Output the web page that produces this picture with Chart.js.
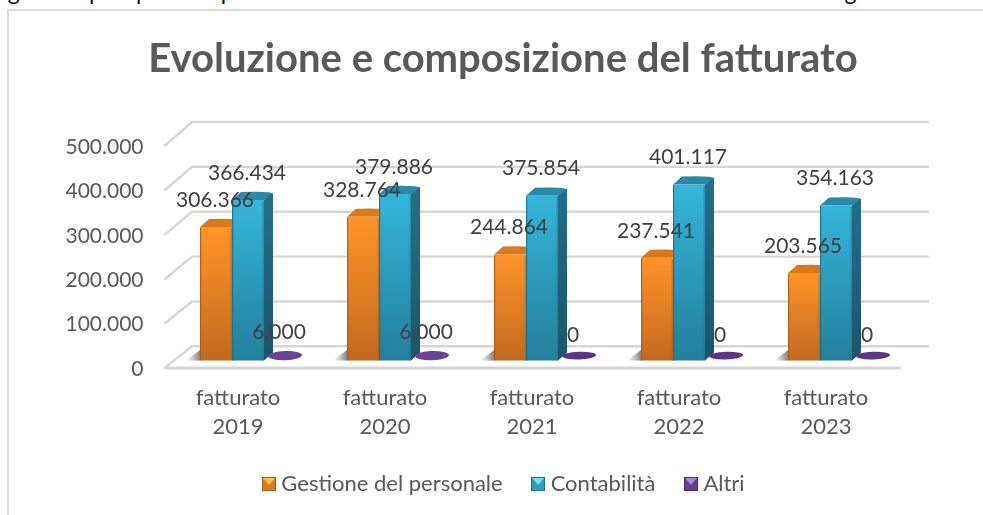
<!DOCTYPE html>
<html><head><meta charset="utf-8">
<style>
html,body{margin:0;padding:0;background:#fff;width:983px;height:515px;overflow:hidden}
#wrap{position:relative;width:983px;height:515px}
#c{position:absolute;left:0;top:0}
#cap{position:absolute;left:-16px;top:-23px;white-space:nowrap;font:23px "Lato";color:#111;letter-spacing:.8px}
#clipcap{position:absolute;left:0;top:0;width:983px;height:7px;overflow:hidden}
#frame{position:absolute;left:7px;top:9px;width:976px;height:506px;border-left:2px solid #dcdcdc;border-top:2px solid #dcdcdc;box-sizing:border-box}
</style>
<script src="https://cdn.jsdelivr.net/npm/chart.js@4"></script>
</head><body><div id="wrap">
<div id="clipcap"><div id="cap">seguente prospetto è possibile osservare l'evoluzione del fatturato aziendale negli anni</div></div>
<div id="frame"></div>
<canvas id="c" width="983" height="515"></canvas>
</div>
<script>
const titleText = "Evoluzione e composizione del fatturato";
const categories = ["fatturato 2019","fatturato 2020","fatturato 2021","fatturato 2022","fatturato 2023"];
const gestione = [306366,328764,244864,237541,203565];
const contabilita = [366434,379886,375854,401117,354163];
const altri = [6000,6000,0,0,0];
const seriesNames = ["Gestione del personale","Contabilità","Altri"];

const fmt = v => String(Math.round(v)).replace(/\B(?=(\d{3})+$)/g,".");
const FONT = "Lato";
const SHIFT = 10, DX = 9, DY = 8, FLOOR_Y = 360.5;

const pal = [
 {top:"#ff9428",bot:"#c2691f",side:"#b5611b",cap:"#d9791a",edge:"#a85c1c",mark:"#e07a1f",tri:"#ffc24d"},
 {top:"#35b5da",bot:"#23809c",side:"#1d6378",cap:"#2a8aa6",edge:"#1f7088",mark:"#2f9cbc",tri:"#6fe0f5"},
 {top:"#6a4296",bot:"#5a377f",side:"#4a2d69",cap:"#6a4296",edge:"#4a2d69",mark:"#664190",tri:"#a98ad6"}
];
function marker(p){
  const c=document.createElement("canvas");c.width=14;c.height=14;
  const x=c.getContext("2d");
  x.fillStyle=p.mark;x.fillRect(0,0,14,14);
  x.fillStyle=p.tri;x.beginPath();x.moveTo(1,1);x.lineTo(13,1);x.lineTo(7,8);x.closePath();x.fill();
  x.strokeStyle=p.edge;x.lineWidth=1;x.strokeRect(.5,.5,13,13);
  return c;
}
function barFill(i){
  return ctx=>{
    if(ctx.type!=="data"||!ctx.chart.chartArea) return pal[i].top;
    const s=ctx.chart.scales.y2, g=ctx.chart.ctx.createLinearGradient(0,s.getPixelForValue(ctx.parsed.y),0,FLOOR_Y);
    g.addColorStop(0,pal[i].top);g.addColorStop(1,pal[i].bot);return g;
  };
}

const depth = {
  id:"depth",
  afterLayout(ch){ ch.legend.left+=3; ch.legend.right+=3; },
  beforeDatasetsDraw(ch){
    const c=ch.ctx, y=ch.scales.y, y2=ch.scales.y2, a=ch.chartArea;
    const backX=192, backR=929;
    c.save();
    c.lineCap="butt";
    for(const v of y.ticks.map(t=>t.value)){
      const fy=y.getPixelForValue(v)-1, by=y2.getPixelForValue(v)-18;
      c.strokeStyle="#d6d6d6";c.lineWidth=2.4;
      c.beginPath();c.moveTo(a.left,fy);c.lineTo(backX,by);c.lineTo(backR,by);c.stroke();
    }
    const fy0=y.getPixelForValue(0)-1;
    c.strokeStyle="#d6d6d6";c.lineWidth=3;
    c.beginPath();c.moveTo(a.left,fy0);c.lineTo(a.right+1,fy0);c.stroke();
    c.restore();

    c.save();
    c.translate(SHIFT,0);
    const m0=ch.getDatasetMeta(0), m1=ch.getDatasetMeta(1), m2=ch.getDatasetMeta(2);
    m0.data.forEach(b=>{
      const l=b.x-b.width/2;
      const g=c.createLinearGradient(l-14,0,l,0);
      g.addColorStop(0,"rgba(120,120,120,0)");g.addColorStop(1,"rgba(90,90,90,.75)");
      c.fillStyle=g;c.beginPath();c.moveTo(l,350);c.lineTo(l,FLOOR_Y);c.lineTo(l-14,FLOOR_Y);c.closePath();c.fill();
    });
    [m1,m0].forEach((m,k)=>{
      const p=pal[k===0?1:0];
      m.data.forEach(b=>{
        const l=b.x-b.width/2,r=b.x+b.width/2,t=b.y;
        c.fillStyle=p.cap;c.beginPath();c.moveTo(l,t);c.lineTo(l+DX,t-DY);c.quadraticCurveTo(r+DX,t-DY-1,r+DX,t-DY+2);c.lineTo(r,t);c.closePath();c.fill();
        const g=c.createLinearGradient(0,t,0,FLOOR_Y);g.addColorStop(0,k===0?"#226f87":p.side);g.addColorStop(1,k===0?"#1a5568":p.side);
        c.fillStyle=g;c.beginPath();c.moveTo(r,t);c.lineTo(r+DX,t-DY+1);c.lineTo(r+DX,FLOOR_Y-8);c.lineTo(r,FLOOR_Y);c.closePath();c.fill();
      });
    });
    m2.data.forEach((b,i)=>{
      c.fillStyle=altri[i]>0?"#6a4296":"#5a3586";
      c.beginPath();c.ellipse(b.x+5,355.6,17,altri[i]>0?4.6:3.8,-0.03,0,Math.PI*2);c.fill();
    });
    c.beginPath();c.rect(-SHIFT,0,ch.width,FLOOR_Y);c.clip();
  },
  afterDatasetsDraw(ch){
    const c=ch.ctx;
    [0,1].forEach(i=>{
      ch.getDatasetMeta(i).data.forEach(b=>{
        const l=b.x-b.width/2,r=b.x+b.width/2,t=b.y;
        c.fillStyle=pal[i].edge;c.globalAlpha=.85;
        c.fillRect(l,t+1,1.2,FLOOR_Y-t);
        c.globalAlpha=.45;c.fillRect(r-1.5,t+1,1.5,FLOOR_Y-t);
        c.globalAlpha=1;
      });
    });
    c.restore();
    c.save();
    c.font="21px "+FONT;c.fillStyle="#404040";c.textAlign="center";c.textBaseline="middle";
    [0,1,2].forEach(i=>{
      const vals=[gestione,contabilita,altri][i];
      ch.getDatasetMeta(i).data.forEach((b,j)=>{
        c.fillText(fmt(vals[j]),b.x+9,b.y-(i===2?29:27));
      });
    });
    c.restore();
  }
};

new Chart(document.getElementById("c"),{
  type:"bar",
  data:{
    labels:categories.map(s=>s.split(" ")),
    datasets:[
      {label:seriesNames[0],data:gestione,yAxisID:"y2",backgroundColor:barFill(0)},
      {label:seriesNames[1],data:contabilita,yAxisID:"y2",backgroundColor:barFill(1)},
      {label:seriesNames[2],data:altri,yAxisID:"y2",backgroundColor:"rgba(0,0,0,0)"}
    ]
  },
  plugins:[depth],
  options:{
    responsive:false,animation:false,
    layout:{padding:{left:23,right:0,top:35,bottom:10}},
    datasets:{bar:{barPercentage:1,categoryPercentage:.653,borderWidth:0}},
    plugins:{
      tooltip:{enabled:false},
      title:{display:true,text:titleText,color:"#595959",font:{family:FONT,size:40,weight:"bold"},padding:{top:0,bottom:64}},
      legend:{position:"bottom",labels:{
        usePointStyle:true,pointStyleWidth:3,boxHeight:14,color:"#595959",font:{family:FONT,size:22},padding:34,
        generateLabels:ch=>ch.data.datasets.map((d,i)=>({text:d.label,datasetIndex:i,pointStyle:marker(pal[i]),fontColor:"#595959",hidden:false,lineWidth:0,strokeStyle:"rgba(0,0,0,0)",fillStyle:"rgba(0,0,0,0)"}))
      }}
    },
    scales:{
      x:{grid:{display:false},border:{display:false},
         ticks:{color:"#595959",font:{family:FONT,size:22,lineHeight:1.32},padding:6,autoSkip:false,maxRotation:0},
         afterFit(s){s.height=70;}},
      y:{min:0,max:500000,position:"left",grid:{display:false,drawTicks:false},border:{display:false},
         ticks:{stepSize:100000,color:"#595959",font:{family:FONT,size:21},padding:21,callback:v=>fmt(v)},
         afterFit(s){s.width=141.5;}},
      y2:{min:-10500,max:484500,position:"right",grid:{display:false,drawTicks:false},border:{display:false},
         ticks:{display:false},afterFit(s){s.width=83.5;}}
    }
  }
});
</script>
</body></html>
